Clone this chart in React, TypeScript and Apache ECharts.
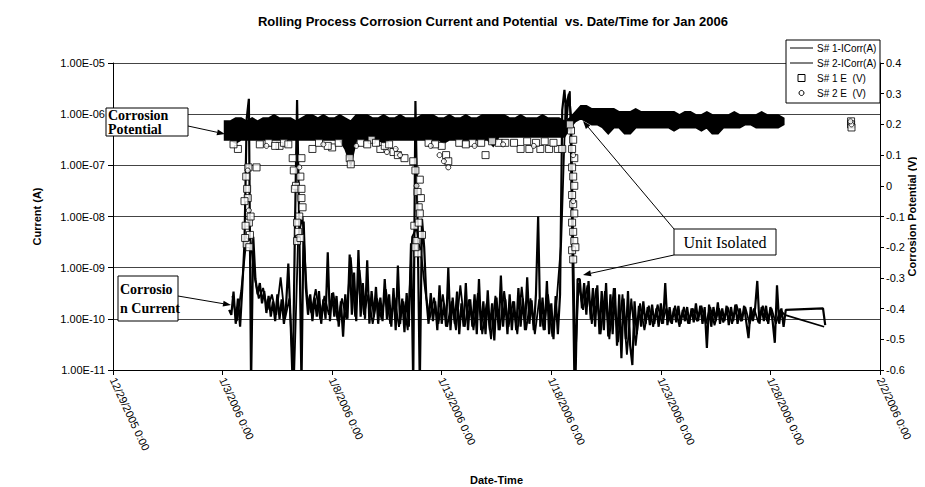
import React, { useEffect, useRef } from "react";
import * as echarts from "echarts";

// ---------- axis labels ----------
const xTickLabels = [
  "12/29/2005 0:00",
  "1/3/2006 0:00",
  "1/8/2006 0:00",
  "1/13/2006 0:00",
  "1/18/2006 0:00",
  "1/23/2006 0:00",
  "1/28/2006 0:00",
  "2/2/2006 0:00",
];
const leftTickLabels = ["1.00E-11", "1.00E-10", "1.00E-09", "1.00E-08", "1.00E-07", "1.00E-06", "1.00E-05"];
const legendNames = ["S# 1-ICorr(A)", "S# 2-ICorr(A)", "S# 1 E  (V)", "S# 2 E  (V)"];

// ---------- corrosion current (units of 1e-10 A), time in days after 12/29/2005 0:00 ----------
// 0.05 = reading below the axis range (drops to the bottom of the plot)
const s1Start = 5.3;
const s1Step = 0.1;
const s1Icorr: (number | null)[] = [
  1.5,
  1.2, 3.4, 0.8, 2.5, 0.7, 4.0,
  30, 8000, 20000, 0.05, 40,
  6, 3, 5, 2, 3.5, 1.3, 2.8, 1.1, 2.2, 0.9, 3.0, 1.0, 2.4, 0.8, 1.9, 12, 1.0,
  0.05, 50, 19000, 60, 0.05, 80,
  4, 1.2, 3, 0.9, 2.6, 1.1, 3.5, 0.8, 2.4, 1.0,
  20, 0.9, 3.2, 1.1, 2.8, 0.7, 2.2, 0.45, 3.0, 1.0,
  18, 1.2, 8, 0.9, 22, 1.1, 5, 1.0, 14, 0.8,
  3.5, 1.1, 4.2, 0.8, 2.6, 0.9, 6, 1.0, 3.0, 0.7,
  4, 0.6, 11, 0.8, 2.5, 0.55, 3.2, 0.7,
  30, 0.05, 18000, 70, 0.05, 90, 25,
  2.5, 0.8, 3.2, 0.9, 2.2, 0.6, 4.5, 0.8, 2.0, 0.7,
  10, 0.6, 2.6, 0.8, 3.4, 0.5, 2.0, 0.7, 5, 0.6,
  2.4, 0.7, 3.0, 0.5, 6, 0.6, 2.2, 0.5, 3.6, 0.6,
  2.0, 0.38, 2.6, 0.6, 7, 0.7, 2.4, 0.5, 3.0, 0.6,
  2.2, 0.6, 4, 0.7, 2.5, 0.6, 6.5, 0.8, 2.3, 0.6,
  3.0, 100, 0.7, 2.6, 0.6, 5.5, 0.5, 2.0, 0.4, 2.8,
  0.5,
  3.0, 12000, 30000, 8000, 25000, 9000, 20, 0.05, 6,
  6, 1.6, 5, 1.2, 5.5, 1.0, 4, 0.7, 4.5, 0.5,
  3.5, 0.6, 5, 0.45, 3, 0.5, 4, 0.3, 3, 0.17,
  2.5, 0.4, 3.5, 0.3, 0.125, 2.2, 0.5,
  1.8, 0.7, 2.2, 0.8, 1.7, 0.75, 1.9, 0.8, 1.6, 0.7,
  2.0, 0.8, 5, 0.75, 1.7, 0.8, 1.6, 0.85, 1.8, 0.8,
  1.5, 0.9, 1.7, 0.8, 1.6, 0.85, 2.0, 0.9, 1.8, 0.8,
  1.7, 0.27, 1.9, 0.7, 1.7, 0.9, 2.1, 0.8, 1.6, 0.9,
  1.8, 0.75, 1.7, 0.9, 1.9, 0.8, 1.6, 0.9, 1.8, 0.85,
  0.42, 1.7, 0.9, 1.6, 5.5, 0.8, 1.7, 0.9, 1.8, 0.8,
  1.7, 0.9, 0.34, 4.5, 0.8, 1.6, 0.7, 1.5,
  null, null, null, null, null, null, null, null, null, null, null, null, null, null, null, null,
  1.6, 0.75,
];

const s2Start = 5.45;
const s2Step = 0.2;
const s2Icorr: (number | null)[] = [
  2.8, 0.9, 3.5, 25, 45, 7, 2.5, 4.0, 1.5, 3.0,
  1.2, 6.5, 1.0, 2.5, 0.05, 40, 100, 3.0, 1.3, 3.8,
  1.0, 2.8, 1.2, 3.3, 0.9, 2.5, 1.0, 16, 1.1, 9,
  1.2, 3.0, 0.8, 2.5, 1.0, 3.8, 0.8, 2.6, 0.7, 2.2,
  0.6, 40, 60, 20, 3.5, 1.0, 2.6, 0.8, 3.0, 0.7,
  2.2, 0.6, 4.5, 0.7, 2.4, 0.6, 3.2, 0.5, 2.0, 0.4,
  2.8, 0.6, 3.5, 0.7, 2.2, 0.5, 4.2, 0.6, 2.5, 0.5,
  2.4, 0.6, 3.0, 0.45, 2.4, 30, 15000, 28000, 0.05, 5,
  1.5, 4.5, 0.8, 4, 0.5, 3.5, 0.4, 4, 0.35, 3,
  0.2, 2.5, 0.3, 2.0, 0.6, 1.8, 0.7, 1.9, 0.8, 1.6,
  0.85, 1.8, 0.7, 1.7, 0.8, 1.6, 0.9, 1.8, 0.8, 1.7,
  0.75, 1.6, 0.85, 1.7, 0.8, 1.9, 0.9, 1.7, 0.8, 1.6,
  0.85, 1.8, 0.9, 1.6, 0.8, 1.5, 1.2,
  null, null, null, null, null, null, null, null,
  0.7,
];

// ---------- corrosion potential (V): dense band of overlapping readings (low / high edge) ----------
const eBandStart = 5.1;
const eBandStep = 0.25;
const eBandLow = [
  0.15,
  0.15, 0.14, 0.15, 0.15, 0.15, 0.15, 0.15, 0.15, 0.15, 0.15,
  0.15, 0.15, 0.15, 0.15, 0.15, 0.15, 0.15, 0.15, 0.15, 0.15,
  0.15, 0.12, 0.07, 0.15, 0.15, 0.15, 0.15, 0.15, 0.14, 0.15,
  0.15, 0.15, 0.15, 0.15, 0.15, 0.15, 0.15, 0.15, 0.15, 0.14,
  0.15, 0.15, 0.15, 0.15, 0.15, 0.15, 0.15, 0.15, 0.13, 0.16,
  0.16, 0.16, 0.16, 0.16, 0.16, 0.16, 0.16, 0.16, 0.16, 0.16,
  0.16, 0.16, 0.19, 0.21, 0.22, 0.21, 0.20, 0.20, 0.19, 0.17,
  0.19, 0.19, 0.17, 0.17, 0.19, 0.19, 0.19, 0.19, 0.19, 0.19,
  0.19, 0.18, 0.19, 0.19, 0.19, 0.19, 0.18, 0.19, 0.17, 0.17,
  0.19, 0.19, 0.19, 0.19, 0.20, 0.20, 0.19, 0.19, 0.19, 0.19,
  0.19, 0.20,
];
const eBandHigh = [
  0.21,
  0.21, 0.22, 0.22, 0.21, 0.22, 0.21, 0.22, 0.22, 0.23, 0.22,
  0.22, 0.22, 0.21, 0.22, 0.23, 0.23, 0.22, 0.23, 0.22, 0.22,
  0.23, 0.22, 0.21, 0.23, 0.23, 0.23, 0.22, 0.22, 0.23, 0.22,
  0.22, 0.23, 0.22, 0.22, 0.22, 0.23, 0.23, 0.23, 0.22, 0.22,
  0.23, 0.22, 0.22, 0.23, 0.22, 0.22, 0.23, 0.23, 0.23, 0.23,
  0.23, 0.22, 0.22, 0.23, 0.22, 0.22, 0.22, 0.23, 0.22, 0.22,
  0.22, 0.21, 0.22, 0.24, 0.26, 0.26, 0.25, 0.25, 0.25, 0.25,
  0.25, 0.24, 0.24, 0.24, 0.25, 0.24, 0.24, 0.24, 0.24, 0.24,
  0.24, 0.24, 0.23, 0.24, 0.24, 0.23, 0.23, 0.24, 0.23, 0.23,
  0.23, 0.23, 0.24, 0.23, 0.23, 0.23, 0.23, 0.24, 0.23, 0.23,
  0.23, 0.22,
];

// individually visible potential readings [day, V]
const s1E: [number, number][] = [
  [6.08, 0.03], [6.12, -0.01], [6.15, -0.04], [6.2, -0.12], [6.05, -0.13], [6.25, -0.16], [6.1, -0.19], [6.22, -0.2],
  [6.0, -0.05], [6.18, 0.06], [6.28, -0.1], [6.03, -0.17],
  [8.2, 0.09], [8.6, 0.09], [8.35, 0.0], [8.3, -0.01], [8.55, 0.03], [8.6, -0.01], [8.6, -0.04], [8.5, -0.1], [8.45, -0.15], [8.4, -0.18],
  [8.25, 0.05], [8.65, -0.07], [8.4, -0.12], [8.55, -0.17],
  [13.8, 0.05], [14.0, 0.02], [13.9, -0.02], [14.05, -0.04], [13.95, -0.07], [14.0, -0.09], [13.75, -0.13], [13.85, -0.18], [13.9, -0.22],
  [13.7, 0.08], [13.95, -0.12], [14.1, -0.16], [13.8, -0.2],
  [20.9, 0.18], [21.0, 0.15], [20.95, 0.12], [21.05, 0.09], [20.95, 0.06], [21.0, 0.03], [21.05, 0.0], [20.95, -0.03],
  [21.0, -0.06], [21.05, -0.09], [20.95, -0.12], [21.0, -0.15], [21.05, -0.18], [20.95, -0.21], [21.0, -0.24],
  [20.85, 0.2], [21.1, -0.2],
  [5.7, 0.12], [6.55, 0.06], [7.6, 0.13], [7.8, 0.14], [9.1, 0.12], [10.0, 0.125], [10.8, 0.09], [10.85, 0.07],
  [11.8, 0.15], [12.2, 0.12], [12.4, 0.13], [12.8, 0.11], [13.0, 0.1], [13.3, 0.09], [15.0, 0.13], [15.2, 0.1],
  [15.3, 0.08], [16.4, 0.14], [17.0, 0.1], [17.6, 0.14], [17.9, 0.14], [18.6, 0.12], [19.0, 0.12], [19.5, 0.12],
  [19.9, 0.12], [20.3, 0.12], [20.5, 0.12],
  [5.5, 0.135], [6.7, 0.135], [7.1, 0.14], [7.4, 0.13], [8.0, 0.135], [9.4, 0.14], [9.8, 0.13], [10.3, 0.14],
  [11.3, 0.14], [11.6, 0.135], [12.0, 0.14], [12.6, 0.135], [14.4, 0.14], [14.7, 0.135], [15.8, 0.14], [16.1, 0.135],
  [16.8, 0.14], [17.3, 0.145], [18.3, 0.14], [18.9, 0.145], [19.3, 0.14], [19.7, 0.145], [20.1, 0.14],
  [33.68, 0.21], [33.68, 0.2], [33.7, 0.19],
];
const s2E: [number, number][] = [
  [6.15, 0.05], [6.2, -0.08], [8.5, 0.06], [13.85, 0.0], [14.9, 0.1], [15.1, 0.08], [15.3, 0.06], [12.9, 0.12],
  [13.1, 0.1], [12.5, 0.11], [21.0, 0.1], [21.0, -0.05], [16.5, 0.13],
  [7.0, 0.13], [9.6, 0.135], [11.1, 0.13], [14.5, 0.13], [17.8, 0.135], [19.2, 0.13],
  [33.7, 0.2], [33.65, 0.21],
];

const SANS = '"Liberation Sans", Arial, sans-serif';
const SERIF = '"Liberation Serif", "Times New Roman", serif';

function arrow(x1: number, y1: number, x2: number, y2: number) {
  const a = Math.atan2(y2 - y1, x2 - x1);
  const L = 8;
  const W = 3;
  const bx = x2 - L * Math.cos(a);
  const by = y2 - L * Math.sin(a);
  const px = -Math.sin(a) * W;
  const py = Math.cos(a) * W;
  return [
    { type: "line", z: 100, shape: { x1, y1, x2: bx, y2: by }, style: { stroke: "#000", lineWidth: 1 } },
    {
      type: "polygon",
      z: 100,
      shape: { points: [[x2, y2], [bx + px, by + py], [bx - px, by - py]] },
      style: { fill: "#000" },
    },
  ];
}

function legendGraphics() {
  const boxX = 778;
  const boxY = 32;
  const rowY = [40, 55, 70, 85];
  const els: any[] = [
    { type: "rect", z: 110, shape: { x: boxX, y: boxY, width: 94, height: 63 }, style: { fill: "#fff", stroke: "#000", lineWidth: 1 } },
    { type: "line", z: 111, shape: { x1: 782, y1: rowY[0], x2: 805, y2: rowY[0] }, style: { stroke: "#000", lineWidth: 1 } },
    { type: "line", z: 111, shape: { x1: 782, y1: rowY[1], x2: 805, y2: rowY[1] }, style: { stroke: "#000", lineWidth: 1 } },
    { type: "rect", z: 111, shape: { x: 790, y: rowY[2] - 3.5, width: 7, height: 7 }, style: { fill: "#fff", stroke: "#000", lineWidth: 1 } },
    { type: "circle", z: 111, shape: { cx: 793.5, cy: rowY[3], r: 2.5 }, style: { fill: "#fff", stroke: "#000", lineWidth: 1 } },
  ];
  legendNames.forEach((n, i) => {
    els.push({
      type: "text",
      z: 111,
      x: 809,
      y: rowY[i],
      style: { text: n, fontSize: 10, fontFamily: SANS, fill: "#000", verticalAlign: "middle", align: "left" },
    });
  });
  return els;
}

export default function App() {
  const ref = useRef<HTMLDivElement>(null);

  useEffect(() => {
    if (!ref.current) return;
    const chart = echarts.init(ref.current, undefined, { renderer: "svg" });

    const s1Data = s1Icorr
      .map((v, i) => [s1Start + s1Step * i, v == null ? null : v * 1e-10])
      .filter((p) => p[1] != null);
    const s2Data = s2Icorr
      .map((v, i) => [s2Start + s2Step * i, v == null ? null : v * 1e-10])
      .filter((p) => p[1] != null);

    const option: any = {
      animation: false,
      backgroundColor: "#fff",
      grid: { left: 105, right: 53, top: 55, bottom: 125, containLabel: false },
      xAxis: {
        type: "value",
        min: 0,
        max: 35,
        interval: 5,
        name: "Date-Time",
        nameLocation: "middle",
        nameGap: 104,
        nameMoveOverlap: false,
        nameTextStyle: { fontSize: 11, fontWeight: "bold", fontFamily: SANS, color: "#000" },
        axisLine: { show: true, onZero: false, lineStyle: { color: "#000", width: 1 } },
        axisTick: { show: true, inside: false, length: 5, lineStyle: { color: "#000" } },
        splitLine: { show: false },
        axisLabel: {
          rotate: -65,
          margin: 8,
          fontSize: 11,
          fontFamily: SANS,
          color: "#000",
          formatter: (v: number) => xTickLabels[Math.round(v / 5)] ?? "",
        },
      },
      yAxis: [
        {
          type: "log",
          logBase: 10,
          min: 1e-11,
          max: 1e-5,
          name: "Current (A)",
          nameLocation: "middle",
          nameGap: 71,
          nameRotate: 90,
          nameMoveOverlap: false,
          nameTextStyle: { fontSize: 11, fontWeight: "bold", fontFamily: SANS, color: "#000" },
          axisLine: { show: true, lineStyle: { color: "#000", width: 1 } },
          axisTick: { show: true, inside: false, length: 5, lineStyle: { color: "#000" } },
          splitLine: { show: true, lineStyle: { color: "#444", width: 1 } },
          minorTick: { show: false },
          axisLabel: {
            fontSize: 11,
            fontFamily: SANS,
            color: "#000",
            margin: 8,
            formatter: (v: number) => {
              const e = Math.round(Math.log10(v));
              return leftTickLabels[e + 11] ?? "";
            },
          },
        },
        {
          type: "value",
          position: "right",
          min: -0.6,
          max: 0.4,
          interval: 0.1,
          name: "Corrosion Potential (V)",
          nameLocation: "middle",
          nameGap: 26,
          nameRotate: 90,
          nameMoveOverlap: false,
          nameTextStyle: { fontSize: 11, fontWeight: "bold", fontFamily: SANS, color: "#000" },
          axisLine: { show: true, lineStyle: { color: "#000", width: 1 } },
          axisTick: { show: true, inside: false, length: 4, lineStyle: { color: "#000" } },
          splitLine: { show: false },
          axisLabel: {
            fontSize: 11,
            fontFamily: SANS,
            color: "#000",
            margin: 6,
            formatter: (v: number) => String(Number(v.toFixed(1))),
          },
        },
      ],
      series: [
        {
          name: "E band",
          type: "custom",
          yAxisIndex: 1,
          z: 2,
          silent: true,
          data: [[eBandStart, eBandHigh[0]]],
          renderItem: (params: any, api: any) => {
            const top = eBandHigh.map((v, i) => api.coord([eBandStart + eBandStep * i, v]));
            const bot = eBandLow.map((v, i) => api.coord([eBandStart + eBandStep * i, v])).reverse();
            return {
              type: "polygon",
              shape: { points: top.concat(bot) },
              style: { fill: "#000", stroke: "#000", lineWidth: 2 },
            };
          },
        },
        {
          name: legendNames[0],
          type: "line",
          yAxisIndex: 0,
          z: 3,
          symbol: "none",
          showSymbol: false,
          silent: true,
          clip: true,
          data: s1Data,
          lineStyle: { color: "#000", width: 2.2 },
          itemStyle: { color: "#000" },
        },
        {
          name: legendNames[1],
          type: "line",
          yAxisIndex: 0,
          z: 3,
          symbol: "none",
          showSymbol: false,
          silent: true,
          clip: true,
          data: s2Data,
          lineStyle: { color: "#000", width: 1.8 },
          itemStyle: { color: "#000" },
        },
        {
          name: legendNames[2],
          type: "scatter",
          yAxisIndex: 1,
          z: 4,
          symbol: "rect",
          symbolSize: 7,
          silent: true,
          data: s1E,
          itemStyle: { color: "#fff", borderColor: "#000", borderWidth: 1 },
        },
        {
          name: legendNames[3],
          type: "scatter",
          yAxisIndex: 1,
          z: 4,
          symbol: "circle",
          symbolSize: 5,
          silent: true,
          data: s2E,
          itemStyle: { color: "#fff", borderColor: "#000", borderWidth: 1 },
        },
      ],
      graphic: [
        {
          type: "text",
          z: 120,
          x: 485,
          y: 13,
          style: {
            text: "Rolling Process Corrosion Current and Potential  vs. Date/Time for Jan 2006",
            fontSize: 13,
            fontWeight: "bold",
            fontFamily: SANS,
            fill: "#000",
            align: "center",
            verticalAlign: "middle",
          },
        },
        ...legendGraphics(),
        { type: "rect", z: 100, shape: { x: 98, y: 100, width: 82, height: 28 }, style: { fill: "#fff", stroke: "#000", lineWidth: 1 } },
        {
          type: "text",
          z: 101,
          x: 100,
          y: 100,
          style: { text: "Corrosion\nPotential", fontSize: 14, fontWeight: "bold", fontFamily: SERIF, lineHeight: 14, fill: "#000" },
        },
        ...arrow(180, 118, 217, 126),
        { type: "rect", z: 100, shape: { x: 110, y: 268, width: 60, height: 45 }, style: { fill: "#fff", stroke: "#000", lineWidth: 1 } },
        {
          type: "text",
          z: 101,
          x: 112,
          y: 272,
          style: { text: "Corrosio\nn Current", fontSize: 14, fontWeight: "bold", fontFamily: SERIF, lineHeight: 19, fill: "#000" },
        },
        ...arrow(170, 288, 223, 297),
        { type: "rect", z: 100, shape: { x: 666, y: 221, width: 102, height: 26 }, style: { fill: "#fff", stroke: "#000", lineWidth: 1 } },
        {
          type: "text",
          z: 101,
          x: 717,
          y: 234,
          style: { text: "Unit Isolated", fontSize: 16, fontFamily: SERIF, fill: "#000", align: "center", verticalAlign: "middle" },
        },
        ...arrow(666, 221, 575, 113),
        ...arrow(666, 247, 575, 267),
      ],
    };

    chart.setOption(option);
    return () => chart.dispose();
  }, []);

  return <div ref={ref} style={{ width: 925, height: 487 }} />;
}
